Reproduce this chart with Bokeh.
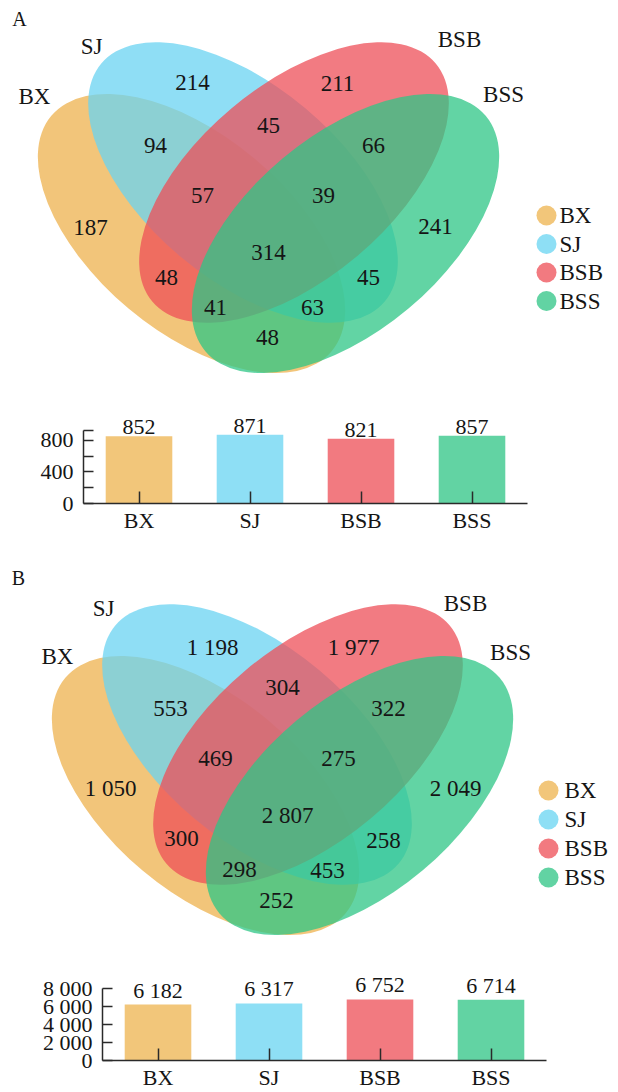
from bokeh.plotting import figure
from bokeh.models import Range1d, FixedTicker, ColumnDataSource, LabelSet
from bokeh.core.properties import value
from bokeh.embed import file_html
from bokeh.resources import INLINE

# ---------------- data ----------------
sets = ["BX", "SJ", "BSB", "BSS"]
regions = ["BX", "SJ", "BSB", "BSS",
           "BX&SJ", "SJ&BSB", "BSB&BSS", "BX&BSB", "SJ&BSS", "BX&BSS",
           "BX&SJ&BSB", "SJ&BSB&BSS", "BX&BSB&BSS", "BX&SJ&BSS", "ALL"]
counts_a = [187, 214, 211, 241, 94, 45, 66, 48, 45, 48, 57, 39, 41, 63, 314]
counts_b = [1050, 1198, 1977, 2049, 553, 304, 322, 300, 258, 252, 469, 275, 298, 453, 2807]
totals_a = [852, 871, 821, 857]
totals_b = [6182, 6317, 6752, 6714]
ticks_a = [0, 400, 800]
ticks_b = [0, 2000, 4000, 6000, 8000]
tick_labels_b = ["0", "2 000", "4 000", "6 000", "8 000"]

# ---------------- style / layout ----------------
FONT_NAME = "Liberation Serif"
FONT = value(FONT_NAME)
base_cols = ["#EEB24E", "#6AD3F2", "#EE4F58", "#2EC686"]
solid_cols = ["#F2C67A", "#8EDFF5", "#F27A80", "#62D3A3"]
ALPHA = 0.75
W = 618

# label positions (page pixel coords) for each region, panel A and B
pos_a = [(90, 227), (192, 82), (337, 83), (435, 226),
         (155, 145), (268, 125), (373, 145), (166, 277), (368, 277), (267, 337),
         (202, 195), (323, 195), (215, 307), (312, 307), (268, 252)]
pos_b = [(110, 788), (212, 647), (353, 647), (455, 788),
         (170, 708), (282, 687), (388, 708), (181, 838), (383, 840), (276, 900),
         (215, 758), (338, 758), (239, 869), (327, 870), (287, 815)]
# ellipses in page pixel coords for panel A: cx, cy, a, b, angle(deg)
ell_a = [(191, 233, 183, 98, -40), (242.5, 182, 185, 97, -40),
         (293.5, 182, 185, 97, 40), (345, 233, 183, 98, 40)]
set_label_a = [(34, 96), (91, 46), (459, 39), (503, 94)]
set_label_b = [(57, 656), (103, 608), (465, 603), (510, 652)]
legend_a = (546, 13, [215, 243.5, 272, 300.5])
legend_b = (548, 16, [790, 819, 848, 877])


def fmt(v):
    return f"{v:,}".replace(",", " ")


def venn(top, height, counts, pos, dx, dy, set_pos, legend, letter, letter_pos):
    p = figure(width=W, height=height, x_range=Range1d(0, W), y_range=Range1d(0, height),
               min_border=0, toolbar_location=None, output_backend="svg",
               x_axis_location=None, y_axis_location=None)
    p.grid.visible = False
    p.outline_line_color = None

    def Y(y):
        return height - (y - top)

    for (cx, cy, a, b, ang), col in zip(ell_a, base_cols):
        p.ellipse(x=[cx + dx], y=[Y(cy + dy)], width=[2 * a], height=[2 * b],
                  angle=[ang], angle_units="deg", fill_color=col, fill_alpha=ALPHA,
                  line_color=None)
    p.text(x=[x for x, _ in pos], y=[Y(y) for _, y in pos],
           text=[fmt(c) for c in counts], text_align="center", text_baseline="middle",
           text_font=FONT, text_font_size="23px", text_color="#151515")
    p.text(x=[x for x, _ in set_pos], y=[Y(y) for _, y in set_pos], text=sets,
           text_align="center", text_baseline="middle",
           text_font=FONT, text_font_size="23px", text_color="#151515")
    lx, off, lys = legend
    p.scatter(x=[lx] * 4, y=[Y(v) for v in lys], size=20, marker="circle",
              fill_color=solid_cols, line_color=None)
    p.text(x=[lx + off] * 4, y=[Y(v) for v in lys], text=sets, text_align="left",
           text_baseline="middle", text_font=FONT, text_font_size="23px",
           text_color="#151515")
    p.text(x=[letter_pos[0]], y=[Y(letter_pos[1])], text=[letter], text_align="center",
           text_baseline="middle", text_font=FONT, text_font_size="20px",
           text_color="#151515")
    return p


def bars(height, totals, yend, axis_top, ticks, minor, overrides, bl, br, bb, xstand):
    labels = [fmt(t) for t in totals]
    src = ColumnDataSource(dict(cat=sets, total=totals, label=labels, color=solid_cols))
    p = figure(width=W, height=height, x_range=sets, y_range=Range1d(0, yend),
               toolbar_location=None, output_backend="svg",
               min_border_left=bl, min_border_right=br, min_border_top=0,
               min_border_bottom=bb)
    p.vbar(x="cat", top="total", width=0.6, fill_color="color", line_color=None, source=src)
    p.add_layout(LabelSet(x="cat", y="total", text="label", source=src, y_offset=2,
                          text_align="center", text_baseline="bottom", text_font=FONT,
                          text_font_size="22px", text_color="#151515"))
    p.grid.visible = False
    p.outline_line_color = None
    p.yaxis.ticker = FixedTicker(ticks=ticks, minor_ticks=minor)
    p.yaxis.bounds = (0, axis_top)
    if overrides:
        p.yaxis.major_label_overrides = overrides
    for ax in (p.xaxis, p.yaxis):
        ax.axis_line_color = "#2a2a2a"
        ax.axis_line_width = 1.5
        ax.major_tick_line_color = "#2a2a2a"
        ax.major_tick_line_width = 1.5
        ax.minor_tick_line_color = "#2a2a2a"
        ax.minor_tick_line_width = 1.5
        ax.major_tick_out = 0
        ax.minor_tick_out = 0
        ax.major_label_text_font = FONT_NAME
        ax.major_label_text_font_size = "22px"
        ax.major_label_text_color = "#151515"
    p.xaxis.major_tick_in = 12
    p.yaxis.major_tick_in = 10
    p.yaxis.minor_tick_in = 10
    p.xaxis.major_label_standoff = xstand
    p.yaxis.major_label_standoff = 10
    return p


# page (no body margin): venn A 0..395 ; bar A 395..545 ; venn B 545..945 ; bar B 945..1092
pA = venn(0, 395, counts_a, pos_a, 0, 0, set_label_a, legend_a, "A", (19, 18))
# bar A: frame 395..503 (108 px)
bA = bars(150, totals_a, 108 / 0.079, 930, ticks_a, [200, 600, 930], None, 83, 91, 42, 4)
pB = venn(545, 400, counts_b, pos_b, 14, 562, set_label_b, legend_b, "B", (18, 577))
# bar B: frame 945..1062 (117 px)
bB = bars(147, totals_b, 117 / 0.0092, 8000, ticks_b, [], dict(zip(ticks_b, tick_labels_b)),
          102, 72, 30, 4)

open("out.html", "w").write(file_html([pA, bA, pB, bB], INLINE))
